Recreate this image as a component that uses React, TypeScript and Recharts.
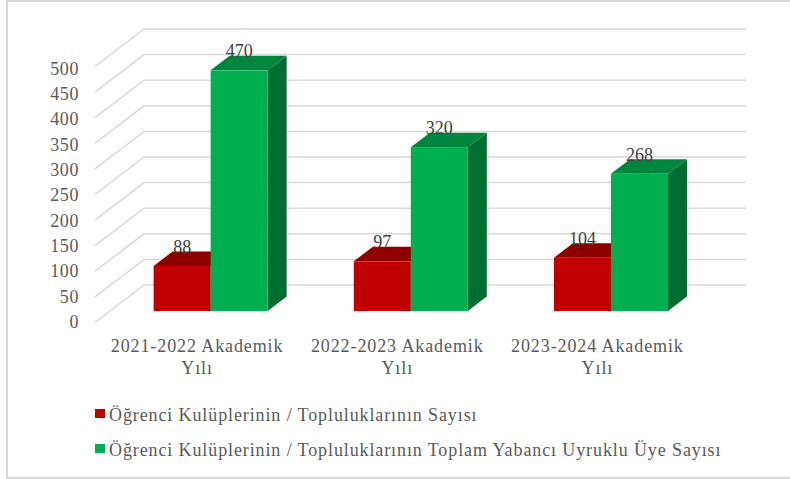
import React from "react";
import { BarChart, Bar, XAxis, YAxis, CartesianGrid, Legend, LabelList } from "recharts";

const categories = ["2021-2022 Akademik Yılı", "2022-2023 Akademik Yılı", "2023-2024 Akademik Yılı"];
const clubs = [88, 97, 104];
const members = [470, 320, 268];
const yTicks = [0, 50, 100, 150, 200, 250, 300, 350, 400, 450, 500];
const clubsName = "Öğrenci Kulüplerinin / Topluluklarının Sayısı";
const membersName = "Öğrenci Kulüplerinin / Topluluklarının Toplam Yabancı Uyruklu Üye Sayısı";

const data = categories.map((category, i) => ({ category, clubs: clubs[i], members: members[i] }));

const FONT = '"Liberation Serif", "Times New Roman", serif';
const TEXT = "#595959";
const GRID = "#D9D9D9";
const SIDE_DX = 19;
const SIDE_DY = 14.5;

const box3d = (front: string, top: string, side: string) => (p: any) => {
  const { x, y, width, height } = p;
  const r = x + width;
  const b = y + height;
  return (
    <g>
      <polygon points={`${r},${y} ${r + SIDE_DX},${y - SIDE_DY} ${r + SIDE_DX},${b - SIDE_DY} ${r},${b}`} fill={side} />
      <polygon points={`${x},${y} ${x + SIDE_DX},${y - SIDE_DY} ${r + SIDE_DX},${y - SIDE_DY} ${r},${y}`} fill={top} />
      <rect x={x} y={y} width={width} height={height} fill={front} />
    </g>
  );
};

const gridLine = (p: any) => (
  <polyline
    key={p.index ?? p.y1}
    points={`95,${p.y1 + 11.5} 144,${p.y1 - 26} 746,${p.y1 - 26}`}
    fill="none"
    stroke={GRID}
    strokeWidth={1.5}
  />
);

const YTick = (p: any) => (
  <text
    x={p.x - 32}
    y={p.y + 17 + (311 - p.y) * 0.0105}
    textAnchor="end"
    fontFamily={FONT}
    fontSize={18}
    letterSpacing={0.6}
    fill={TEXT}
  >
    {p.payload.value}
  </text>
);

const XTick = (p: any) => {
  const s = String(p.payload.value);
  const cut = s.lastIndexOf(" ");
  return (
    <text textAnchor="middle" fontFamily={FONT} fontSize={18} letterSpacing={0.9} fill={TEXT}>
      <tspan x={p.x - 14} y={p.y + 41}>{s.slice(0, cut)}</tspan>
      <tspan x={p.x - 14} y={p.y + 62.5}>{s.slice(cut + 1)}</tspan>
    </text>
  );
};

const DataLabel = (p: any) => (
  <text
    x={p.x + p.width / 2}
    y={p.y - 13}
    textAnchor="middle"
    fontFamily={FONT}
    fontSize={18}
    fill="#404040"
  >
    {p.value}
  </text>
);

const LegendBox = (p: any) => (
  <div style={{ position: "relative", height: 0 }}>
    {(p.payload || []).map((e: any, i: number) => (
      <React.Fragment key={i}>
        <div style={{ position: "absolute", left: 95, top: 409 + i * 35, width: 10, height: 9, background: e.color }} />
        <div
          style={{
            position: "absolute",
            left: 109,
            top: 403 + i * 35,
            whiteSpace: "nowrap",
            fontFamily: FONT,
            fontSize: 18,
            lineHeight: "24px",
            letterSpacing: 0.89,
            color: TEXT,
          }}
        >
          {e.value}
        </div>
      </React.Fragment>
    ))}
  </div>
);

export default function App() {
  return (
    <div style={{ position: "absolute", left: 0, top: 0, width: 790, height: 479, background: "#fff", overflow: "hidden" }}>
      <div
        style={{
          position: "absolute",
          left: 6,
          top: 0,
          width: 784,
          height: 475,
          borderLeft: `2px solid ${GRID}`,
          borderTop: `2px solid ${GRID}`,
          borderBottom: `2px solid ${GRID}`,
        }}
      />
      <div style={{ position: "absolute", left: 0, top: 0 }}>
        <BarChart
          width={790}
          height={479}
          data={data}
          margin={{ top: 55, right: 78.5, bottom: 108, left: 0 }}
          barCategoryGap="21.3%"
          barGap={0}
        >
          <CartesianGrid vertical={false} horizontal={gridLine} />
          <XAxis dataKey="category" height={60} axisLine={false} tickLine={false} tickSize={0} tickMargin={0} interval={0} tick={XTick} />
          <YAxis width={111} domain={[0, 500]} ticks={yTicks} axisLine={false} tickLine={false} tickSize={0} tickMargin={0} interval={0} tick={YTick} />
          <Legend content={LegendBox} wrapperStyle={{ left: 0, top: 0, bottom: "auto", width: 790, height: 0 }} />
          <Bar dataKey="clubs" name={clubsName} fill="#C00000" isAnimationActive={false} shape={box3d("#C00000", "#8E0000", "#8E0000")}>
            <LabelList dataKey="clubs" content={DataLabel} />
          </Bar>
          <Bar dataKey="members" name={membersName} fill="#00B050" isAnimationActive={false} shape={box3d("#00B050", "#00863C", "#006E30")}>
            <LabelList dataKey="members" content={DataLabel} />
          </Bar>
        </BarChart>
      </div>
    </div>
  );
}
